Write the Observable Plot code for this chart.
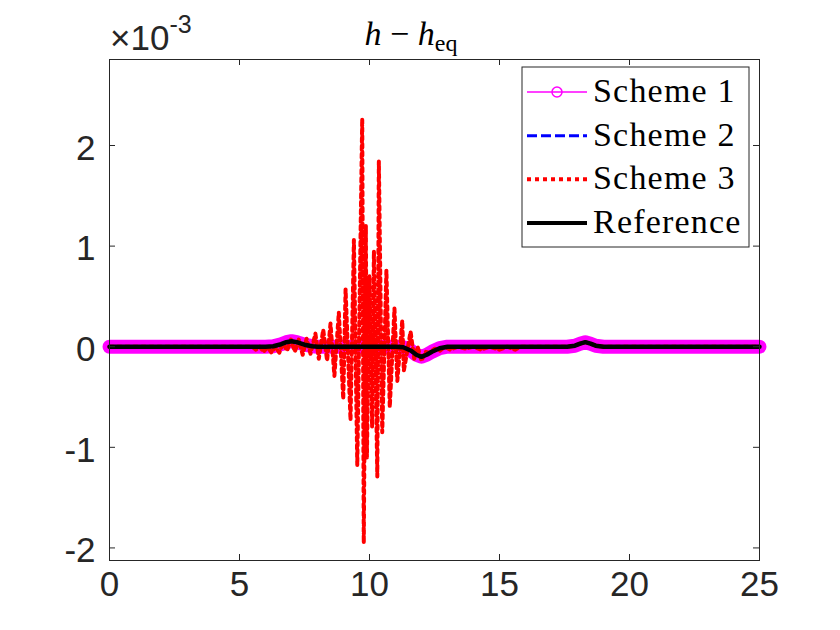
<!DOCTYPE html>
<html><head><meta charset="utf-8">
<script src="https://cdn.jsdelivr.net/npm/d3@7"></script>
<script src="https://cdn.jsdelivr.net/npm/@observablehq/plot@0.6"></script>
<style>body{margin:0;background:#fff}#chart{width:840px;height:630px}</style>
</head><body><div id="chart"></div>
<script>
// values in units of 1e-3
const xTicks = [0, 5, 10, 15, 20, 25];
const yTicks = [-2, -1, 0, 1, 2];
const xDomain = [0, 25];
const yDomain = [-2.125, 2.855];
const seriesNames = ["Scheme 1", "Scheme 2", "Scheme 3", "Reference"];

const refX = [0, 6.0, 6.3, 6.6, 6.8, 7.0, 7.2, 7.5, 7.8, 8.0, 11.0, 11.3, 11.6, 11.8, 12.0, 12.2, 12.4, 12.7, 13.0, 17.6, 17.9, 18.1, 18.3, 18.5, 18.7, 19.0, 25];
const refV = [0, 0, 0.005, 0.025, 0.045, 0.055, 0.045, 0.02, 0.005, 0, 0, -0.005, -0.04, -0.08, -0.1, -0.08, -0.05, -0.015, 0, 0, 0.01, 0.03, 0.045, 0.03, 0.01, 0, 0];

const s1X = [0, 6.0, 6.3, 6.6, 6.8, 7.0, 7.2, 7.5, 7.8, 8.0, 11.0, 11.3, 11.6, 11.8, 12.0, 12.2, 12.4, 12.7, 13.0, 17.6, 17.9, 18.1, 18.3, 18.5, 18.7, 19.0, 25];
const s1V = [0, 0, 0.005, 0.025, 0.045, 0.055, 0.045, 0.02, 0.005, 0, 0, -0.005, -0.04, -0.08, -0.1, -0.08, -0.05, -0.015, 0, 0, 0.01, 0.03, 0.045, 0.03, 0.01, 0, 0];

const s2X = [0, 6.0, 6.3, 6.6, 6.8, 7.0, 7.2, 7.5, 7.8, 8.0, 11.0, 11.3, 11.6, 11.8, 12.0, 12.2, 12.4, 12.7, 13.0, 17.6, 17.9, 18.1, 18.3, 18.5, 18.7, 19.0, 25];
const s2V = [0, 0, 0.005, 0.025, 0.045, 0.055, 0.045, 0.02, 0.005, 0, 0, -0.005, -0.04, -0.08, -0.1, -0.08, -0.05, -0.015, 0, 0, 0.01, 0.03, 0.045, 0.03, 0.01, 0, 0];

const s3X = [0, 5.5, 5.63, 5.78, 5.93, 6.08, 6.23, 6.38, 6.53, 6.68, 6.83, 6.98, 7.13, 7.28, 7.43, 7.58, 7.73,
  7.92, 8.05, 8.22, 8.37, 8.50, 8.65, 8.82, 8.99, 9.08, 9.27, 9.40, 9.53, 9.72, 9.78, 9.86, 9.90, 10.0, 10.10,
  10.17, 10.30, 10.36, 10.49, 10.65, 10.78, 10.96, 11.07, 11.26, 11.32, 11.58, 11.72, 11.85, 12.0, 12.15,
  12.3, 12.5, 12.7, 12.9, 13.1, 13.4, 13.7, 14.0, 14.3, 14.6, 15.0, 15.3, 15.6, 15.8, 17.6, 17.9, 18.1, 18.3, 18.5, 18.7, 19.0, 25];
const s3V = [0, 0, -0.03, 0.0, -0.05, 0.0, -0.06, 0.0, -0.06, 0.04, -0.04, 0.07, -0.05, 0.07, -0.08, 0.08, -0.07,
  0.13, -0.12, 0.17, -0.14, 0.23, -0.29, 0.34, -0.52, 0.57, -0.73, 1.06, -1.18, 2.265, -1.95, 1.20, -1.10, 0.7, -0.80,
  0.95, -1.29, 1.84, -0.85, 0.76, -0.60, 0.38, -0.34, 0.26, -0.24, 0.15, -0.12, 0.0, -0.14, -0.05,
  -0.06, -0.02, -0.04, 0.0, -0.03, 0.0, -0.02, 0.0, -0.03, 0.0, -0.03, 0.0, -0.03, 0, 0, 0.01, 0.03, 0.045, 0.03, 0.01, 0, 0];

const toRows = (xs, vs) => xs.map((x, i) => ({x, v: vs[i]}));
const ref = toRows(refX, refV), s1 = toRows(s1X, s1V), s2 = toRows(s2X, s2V), s3 = toRows(s3X, s3V);

const W = 840, H = 630, mL = 109, mR = 81, mT = 59, mB = 70;
const plotW = W - mL - mR, plotH = H - mT - mB;
const axisColor = "#262626";
const sans = "'Liberation Sans', Arial, Helvetica, sans-serif";
const serif = "'Liberation Serif', 'Times New Roman', serif";

const chart = Plot.plot({
  width: W, height: H,
  marginLeft: mL, marginRight: mR, marginTop: mT, marginBottom: mB,
  style: {background: "#fff", fontFamily: sans, overflow: "visible"},
  x: {domain: xDomain, axis: null},
  y: {domain: yDomain, axis: null},
  marks: [
    Plot.line(s1, {x: "x", y: "v", stroke: "#ff00ff", strokeWidth: 14, strokeLinecap: "round", strokeLinejoin: "round"}),
    Plot.line(s2, {x: "x", y: "v", stroke: "#0000ff", strokeWidth: 3, strokeDasharray: "10 4"}),
    Plot.line(s3, {x: "x", y: "v", stroke: "#ff0000", strokeWidth: 4, strokeDasharray: "4 4"}),
    Plot.line(ref, {x: "x", y: "v", stroke: "#000000", strokeWidth: 4.5, strokeLinejoin: "round"}),
    Plot.frame({stroke: axisColor, strokeWidth: 1}),
    Plot.tickX(xTicks, {x: d => d, stroke: axisColor, insetTop: plotH - 6}),
    Plot.tickX(xTicks, {x: d => d, stroke: axisColor, insetBottom: plotH - 6}),
    Plot.tickY(yTicks, {y: d => d, stroke: axisColor, insetRight: plotW - 6}),
    Plot.tickY(yTicks, {y: d => d, stroke: axisColor, insetLeft: plotW - 6}),
    Plot.text(xTicks, {x: d => d, text: d => String(d), frameAnchor: "bottom", dy: 35.5, fontSize: 35, fill: axisColor}),
    Plot.text(yTicks, {y: d => d, text: d => String(d), frameAnchor: "left", dx: -14, dy: 3, textAnchor: "end", fontSize: 35, fill: axisColor})
  ]
});
document.getElementById("chart").appendChild(chart);

const svg = d3.select(chart);
// exponent label
const ex = svg.append("text").attr("x", 110).attr("y", 50).attr("text-anchor", "start")
  .attr("font-family", sans).attr("font-size", 35).attr("fill", axisColor);
ex.append("tspan").text("×10");
ex.append("tspan").attr("font-size", 25).attr("dy", -17).text("-3");

// title
const t = svg.append("text").attr("x", 411).attr("y", 45).attr("text-anchor", "middle")
  .attr("font-family", serif).attr("font-size", 34).attr("fill", "#000");
t.append("tspan").attr("font-style", "italic").text("h");
t.append("tspan").text(" − ");
t.append("tspan").attr("font-style", "italic").text("h");
t.append("tspan").attr("font-size", 24).attr("dy", 6).text("eq");

// legend
const lg = svg.append("g").attr("text-anchor", "start");
lg.append("rect").attr("x", 522).attr("y", 67).attr("width", 227).attr("height", 180)
  .attr("fill", "#fff").attr("stroke", axisColor).attr("stroke-width", 1);
const legY = [92, 135.7, 179.3, 223];
const legStyles = [
  {stroke: "#ff00ff", w: 1.5, dash: null, marker: true},
  {stroke: "#0000ff", w: 3, dash: "10 4", marker: false},
  {stroke: "#ff0000", w: 4, dash: "4 4", marker: false},
  {stroke: "#000000", w: 4, dash: null, marker: false}
];
seriesNames.forEach((name, i) => {
  const s = legStyles[i], y = legY[i];
  lg.append("line").attr("x1", 527).attr("x2", 587).attr("y1", y).attr("y2", y)
    .attr("stroke", s.stroke).attr("stroke-width", s.w).attr("stroke-dasharray", s.dash);
  if (s.marker) lg.append("circle").attr("cx", 557).attr("cy", y).attr("r", 5)
    .attr("fill", "none").attr("stroke", s.stroke).attr("stroke-width", 1.5);
  lg.append("text").attr("x", 593).attr("y", y + 10).attr("text-anchor", "start")
    .attr("font-family", serif).attr("font-size", 34)
    .attr("letter-spacing", 1.2).attr("fill", "#000").text(name);
});
</script></body></html>
